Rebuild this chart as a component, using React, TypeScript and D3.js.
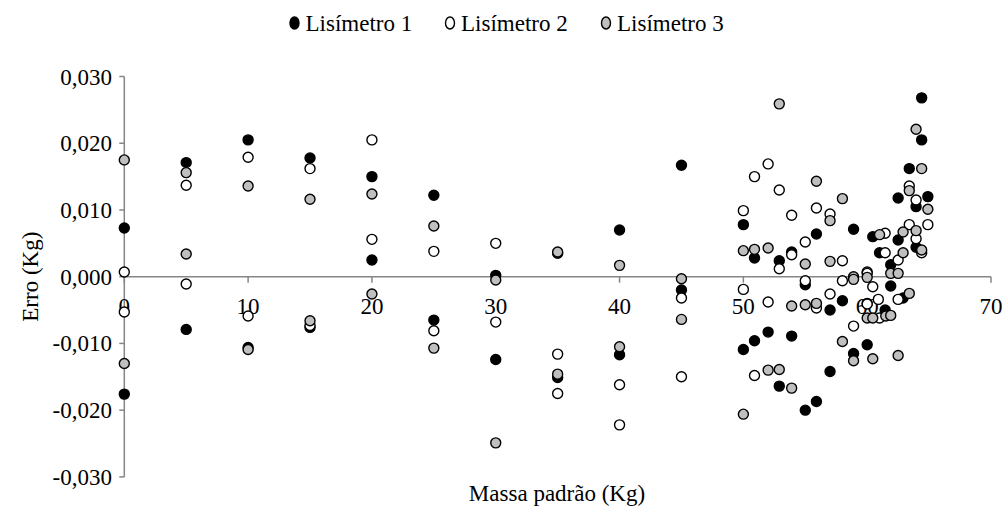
import React from "react";
import * as d3 from "d3";

// Mass applied (kg) and weighing error (kg) for each lysimeter
const l1Mass = [0, 0, 5, 5, 10, 10, 15, 15, 20, 20, 25, 25, 30, 30, 35, 35, 40, 40, 45, 45,
  50, 50, 50.9, 50.9, 52, 52.9, 52.9, 53.9, 53.9, 55, 55, 55.9, 55.9, 57, 57, 58, 58.9, 58.9,
  60, 60, 60.45, 61, 61.45, 61.9, 61.9, 62.5, 62.5, 62.9, 63.4, 63.95, 63.95, 64.4, 64.4, 64.9];
const l1Error = [0.0073, -0.0176, 0.0171, -0.0079, 0.0205, -0.0106, 0.0178, -0.0076, 0.0150, 0.0025,
  0.0122, -0.0065, 0.0002, -0.0124, 0.0035, -0.0151, 0.0070, -0.0117, 0.0167, -0.0020,
  0.0078, -0.0109, 0.0028, -0.0096, -0.0083, 0.0024, -0.0164, 0.0037, -0.0089, -0.0012, -0.0200,
  0.0064, -0.0187, -0.0050, -0.0142, -0.0036, 0.0071, -0.0115, -0.0040, -0.0102, 0.0060, 0.0036,
  -0.0050, 0.0018, -0.0014, 0.0118, 0.0055, -0.0032, 0.0162, 0.0044, 0.0105, 0.0268, 0.0205, 0.0120];

const l2Mass = [0, 0, 5, 5, 10, 10, 15, 15, 20, 20, 25, 25, 30, 30, 35, 35, 40, 40, 45, 45,
  50, 50, 50.9, 50.9, 52, 52, 52.9, 52.9, 53.9, 53.9, 55, 55, 55.9, 55.9, 57, 57, 58, 58, 58.9,
  60, 60, 60, 60.45, 60.9, 61, 61.45, 61.45, 62.5, 62.5, 63.4, 63.4, 63.95, 63.95, 64.4, 64.9];
const l2Error = [0.0007, -0.0053, 0.0137, -0.0011, 0.0179, -0.0059, 0.0162, -0.0073, 0.0205, 0.0056,
  0.0038, -0.0081, 0.0050, -0.0068, -0.0116, -0.0175, -0.0162, -0.0222, -0.0032, -0.0150,
  0.0099, -0.0019, 0.0150, -0.0148, 0.0169, -0.0038, 0.0130, 0.0012, 0.0092, 0.0033, 0.0052, -0.0006,
  0.0103, -0.0047, 0.0094, -0.0026, 0.0024, -0.0006, -0.0074, 0.0007, -0.0041, 0.0005, -0.0015,
  -0.0034, -0.0062, 0.0065, 0.0036, 0.0025, -0.0034, 0.0136, 0.0078, 0.0115, 0.0057, 0.0036, 0.0078];

const l3Mass = [0, 0, 5, 5, 10, 10, 15, 15, 20, 20, 25, 25, 30, 30, 35, 35, 40, 40, 45, 45,
  50, 50, 50.9, 52, 52, 52.9, 52.9, 53.9, 53.9, 55, 55, 55.9, 55.9, 57, 57, 58, 58, 58.9, 58.9, 58.9,
  60, 60, 60.45, 60.45, 61, 61.5, 61.9, 61.9, 62.5, 62.5, 62.9, 62.9, 63.4, 63.4, 63.95, 63.95,
  64.4, 64.4, 64.9];
const l3Error = [0.0175, -0.0130, 0.0156, 0.0034, 0.0136, -0.0109, 0.0116, -0.0066, 0.0124, -0.0026,
  0.0076, -0.0107, -0.0005, -0.0249, 0.0037, -0.0146, 0.0017, -0.0105, -0.0003, -0.0064,
  0.0039, -0.0206, 0.0041, 0.0043, -0.0140, 0.0259, -0.0139, -0.0044, -0.0167, 0.0019, -0.0042,
  0.0143, -0.0040, 0.0084, 0.0023, 0.0117, -0.0097, 0.0000, -0.0126, -0.0004, -0.0001, -0.0062,
  -0.0123, -0.0062, 0.0063, -0.0059, 0.0005, -0.0058, 0.0005, -0.0118, 0.0067, 0.0036, 0.0129,
  -0.0025, 0.0221, 0.0069, 0.0162, 0.0040, 0.0101];

const seriesNames = ["Lisímetro 1", "Lisímetro 2", "Lisímetro 3"];
const seriesFills = ["#000000", "#ffffff", "#bfbfbf"];
const xTicks = [0, 10, 20, 30, 40, 50, 60, 70];
const yTicks = [-0.03, -0.02, -0.01, 0, 0.01, 0.02, 0.03];

const W = 1003;
const H = 508;
const FONT = "'Liberation Serif', 'Times New Roman', serif";
const AXIS = "#868686";

const x = d3.scaleLinear().domain([0, 70]).range([124.3, 991]);
const y = d3.scaleLinear().domain([-0.03, 0.03]).range([476.9, 76.5]);

const fmt = (v: number) => v.toFixed(3).replace(".", ",").replace("-0,000", "0,000");

export default function App() {
  const series = [
    { mass: l1Mass, err: l1Error },
    { mass: l2Mass, err: l2Error },
    { mass: l3Mass, err: l3Error },
  ];
  const legendX = [294.5, 450, 606];
  const x0 = x(0);
  const y0 = y(0);
  return (
    <div style={{ position: "absolute", left: 0, top: 0 }}>
      <svg width={W} height={H} style={{ display: "block", background: "#fff" }}>
        {/* axes */}
        <line x1={x0} x2={x0} y1={y(0.03)} y2={y(-0.03)} stroke={AXIS} strokeWidth={1.5} />
        {yTicks.map((t) => (
          <line key={"yt" + t} x1={x0 - 5} x2={x0} y1={y(t)} y2={y(t)} stroke={AXIS} strokeWidth={1.5} />
        ))}
        <line x1={x0} x2={x(70)} y1={y0} y2={y0} stroke={AXIS} strokeWidth={1.5} />
        {xTicks.map((t) => (
          <line key={"xt" + t} x1={x(t)} x2={x(t)} y1={y0} y2={y0 + 6} stroke={AXIS} strokeWidth={1.5} />
        ))}
        {/* tick labels */}
        {yTicks.map((t) => (
          <text key={"yl" + t} x={112} y={y(t)} dy="0.35em" textAnchor="end" fontFamily={FONT} fontSize={23} fill="#000">
            {fmt(t)}
          </text>
        ))}
        {xTicks.map((t) => (
          <text key={"xl" + t} x={x(t)} y={y0 + 37.5} textAnchor="middle" fontFamily={FONT} fontSize={23} fill="#000">
            {t}
          </text>
        ))}
        {/* points */}
        {series.map((s, i) => (
          <g key={"s" + i}>
            {s.mass.map((m, j) => (
              <circle key={j} cx={x(m)} cy={y(s.err[j])} r={5} fill={seriesFills[i]} stroke="#000" strokeWidth={1.4} />
            ))}
          </g>
        ))}
        {/* axis titles */}
        <text x={557} y={501} textAnchor="middle" fontFamily={FONT} fontSize={23} fill="#000">
          Massa padrão (Kg)
        </text>
        <text transform={`translate(30,${y0}) rotate(-90)`} dy="0.35em" textAnchor="middle" fontFamily={FONT} fontSize={23} fill="#000">
          Erro (Kg)
        </text>
        {/* legend */}
        {seriesNames.map((n, i) => (
          <g key={"lg" + i}>
            <ellipse cx={legendX[i]} cy={23} rx={4.5} ry={6} fill={seriesFills[i]} stroke="#000" strokeWidth={1.4} />
            <text x={legendX[i] + 11} y={23} dy="0.35em" fontFamily={FONT} fontSize={23} fill="#000">
              {n}
            </text>
          </g>
        ))}
      </svg>
    </div>
  );
}
